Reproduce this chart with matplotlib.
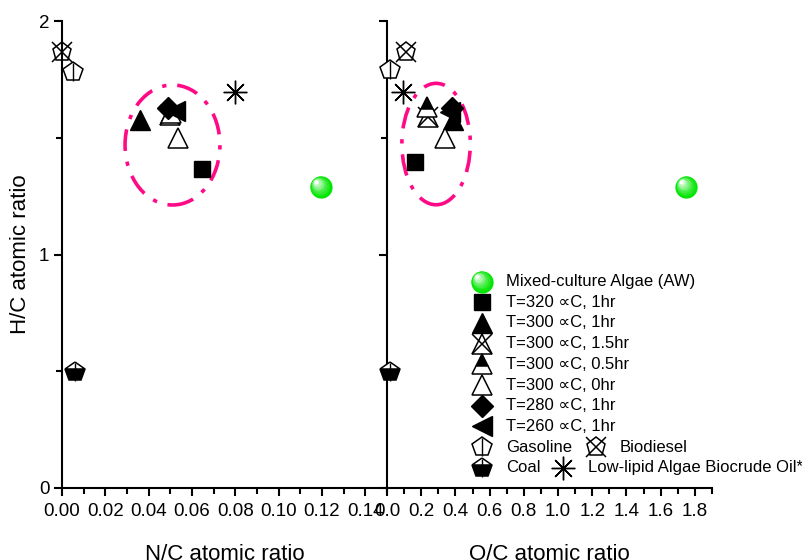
import numpy as np
import matplotlib
matplotlib.use('Agg')
import matplotlib.pyplot as plt
from matplotlib.patches import Ellipse
from matplotlib.transforms import ScaledTranslation
from matplotlib.ticker import MultipleLocator, FormatStrFormatter

plt.rcParams['font.family'] = ['Liberation Sans', 'DejaVu Sans']

# samples (same order in every array)
names = ['Mixed-culture Algae (AW)', 'T=320 \u221dC, 1hr', 'T=300 \u221dC, 1hr',
         'T=300 \u221dC, 1.5hr', 'T=300 \u221dC, 0.5hr', 'T=300 \u221dC, 0hr',
         'T=280 \u221dC, 1hr', 'T=260 \u221dC, 1hr', 'Gasoline', 'Biodiesel',
         'Coal', 'Low-lipid Algae Biocrude Oil*']
keys = ['algae', 't320', 't300_1', 't300_15', 't300_05', 't300_0',
        't280', 't260', 'gasoline', 'biodiesel', 'coal', 'lowlipid']
nc = [0.1195, 0.0646, 0.036, 0.0498, 0.0505, 0.0535, 0.0489, 0.052, 0.0052, 0.0, 0.006, 0.0798]
hc_nc = [1.289, 1.366, 1.576, 1.597, 1.605, 1.499, 1.627, 1.615, 1.783, 1.868, 0.498, 1.697]
oc = [1.75, 0.164, 0.386, 0.24, 0.234, 0.34, 0.38, 0.368, 0.0175, 0.111, 0.018, 0.095]
hc_oc = [1.289, 1.397, 1.576, 1.59, 1.63, 1.499, 1.627, 1.61, 1.79, 1.868, 0.498, 1.697]

# dash-dot ellipses around the HTL biocrude samples: centre x, centre y, width, height
ell_nc = [0.051, 1.469, 0.0438, 0.514]
ell_oc = [0.287, 1.473, 0.40, 0.52]


def sphere(ax, x, y, trans, size=16):
    # green shaded ball
    steps = np.linspace(0, 1, 9)
    for t in steps:
        s = size * (1 - 0.85 * t)
        off = (size - s) / 2.0 * 0.55 / 72.0
        col = np.array([0.0, 0.90, 0.0]) * (1 - t ** 1.3) + np.array([1, 1, 1]) * t ** 1.3
        tr = trans + ScaledTranslation(-off, off, ax.figure.dpi_scale_trans)
        ax.plot([x], [y], 'o', ms=s, mfc=col, mec='none', transform=tr,
                clip_on=False, zorder=5)


def mark(ax, x, y, key, trans=None):
    if trans is None:
        trans = ax.transData
    kw = dict(transform=trans, clip_on=False, zorder=4, ls='none')
    if key == 'algae':
        sphere(ax, x, y, trans)
    elif key == 't320':
        ax.plot([x], [y], 's', ms=12, mfc='k', mec='k', **kw)
    elif key == 't300_1':
        ax.plot([x], [y], '^', ms=15, mfc='k', mec='k', **kw)
    elif key == 't300_15':
        ax.plot([x], [y], '^', ms=15, mfc='white', mec='k', mew=1.1, **kw)
        ax.plot([x], [y], 'x', ms=15, mec='k', mew=1.1, **kw)
    elif key == 't300_05':
        ax.plot([x], [y], '^', ms=15, mfc='k', markerfacecoloralt='white',
                fillstyle='top', mec='k', mew=1.1, **kw)
    elif key == 't300_0':
        ax.plot([x], [y], '^', ms=15, mfc='white', mec='k', mew=1.1, **kw)
    elif key == 't280':
        ax.plot([x], [y], 'D', ms=11, mfc='k', mec='k', **kw)
    elif key == 't260':
        ax.plot([x], [y], '<', ms=15, mfc='k', mec='k', **kw)
    elif key == 'gasoline':
        ax.plot([x], [y], 'p', ms=14.5, mfc='white', mec='k', mew=1.1, **kw)
        ax.plot([x], [y], '|', ms=13, mec='k', mew=1.0, **kw)
    elif key == 'biodiesel':
        ax.plot([x], [y], 'p', ms=14, mfc='none', mec='k', mew=1.1, **kw)
        ax.plot([x], [y], 'x', ms=15, mec='k', mew=1.1, **kw)
    elif key == 'coal':
        ax.plot([x], [y], 'p', ms=14.5, mfc='k', markerfacecoloralt='white',
                fillstyle='bottom', mec='k', mew=1.1, **kw)
        ax.plot([x], [y], '|', ms=13, mec='k', mew=1.0, **kw)
    elif key == 'lowlipid':
        ax.plot([x], [y], marker=(8, 2, 0), ms=17, mec='k', mew=1.0, **kw)


fig = plt.figure(figsize=(8.03, 5.60), dpi=100)
ax1 = fig.add_axes([62 / 803, 72 / 560, 325 / 803, 467 / 560])
ax2 = fig.add_axes([387 / 803, 72 / 560, 325 / 803, 467 / 560])

for ax in (ax1, ax2):
    ax.set_ylim(0, 2)
    ax.spines['top'].set_visible(False)
    ax.spines['right'].set_visible(False)
    ax.spines['left'].set_linewidth(1.5)
    ax.spines['bottom'].set_linewidth(1.5)
    ax.yaxis.set_major_locator(MultipleLocator(1))
    ax.yaxis.set_minor_locator(MultipleLocator(0.5))
    ax.tick_params(which='major', direction='out', length=6, width=1.5,
                   labelsize=13.5, pad=5)
    ax.tick_params(which='minor', direction='out', length=4, width=1.5)
    ax.set_facecolor('none')

ax1.set_xlim(0, 0.15)
ax1.xaxis.set_major_locator(MultipleLocator(0.02))
ax1.xaxis.set_minor_locator(MultipleLocator(0.01))
ax1.xaxis.set_major_formatter(FormatStrFormatter('%.2f'))
ax2.set_xlim(0, 1.9)
ax2.xaxis.set_major_locator(MultipleLocator(0.2))
ax2.xaxis.set_minor_locator(MultipleLocator(0.1))
ax2.xaxis.set_major_formatter(FormatStrFormatter('%.1f'))
ax2.tick_params(axis='y', labelleft=False)
ax1.tick_params(axis='y', pad=3)

ax1.set_xlabel('N/C atomic ratio', fontsize=16, labelpad=17)
ax2.set_xlabel('O/C atomic ratio', fontsize=16, labelpad=17)
ax1.set_ylabel('H/C atomic ratio', fontsize=16, labelpad=6)

for ax, xs, ys, e in ((ax1, nc, hc_nc, ell_nc), (ax2, oc, hc_oc, ell_oc)):
    ax.add_patch(Ellipse((e[0], e[1]), e[2], e[3], fill=False, ec='#ff0a86',
                         lw=2.6, ls=(0, (6, 3, 1.2, 3)), zorder=3))
    for k, x, y in zip(keys, xs, ys):
        mark(ax, x, y, k)

# legend drawn in the O/C panel (axes fractions)
tr = ax2.transAxes
row0, dy = 0.442, 20.7 / 467
mx, tx = (482 - 387) / 325, (506 - 387) / 325
single = keys[:8] + ['gasoline', 'coal']
labels = names[:8] + ['Gasoline', 'Coal']
for i, (k, lab) in enumerate(zip(single, labels)):
    yy = row0 - i * dy
    mark(ax2, mx, yy, k, trans=tr)
    ax2.text(tx, yy, lab, transform=tr, fontsize=12, va='center', ha='left')
# extra entries sharing the last two rows
yy = row0 - 8 * dy
mark(ax2, (595.7 - 387) / 325, yy, 'biodiesel', trans=tr)
ax2.text((620 - 387) / 325, yy, 'Biodiesel', transform=tr, fontsize=12, va='center')
yy = row0 - 9 * dy
mark(ax2, (562.7 - 387) / 325, yy, 'lowlipid', trans=tr)
ax2.text((588 - 387) / 325, yy, 'Low-lipid Algae Biocrude Oil*', transform=tr,
         fontsize=12, va='center')

fig.savefig('out.png', dpi=100)
